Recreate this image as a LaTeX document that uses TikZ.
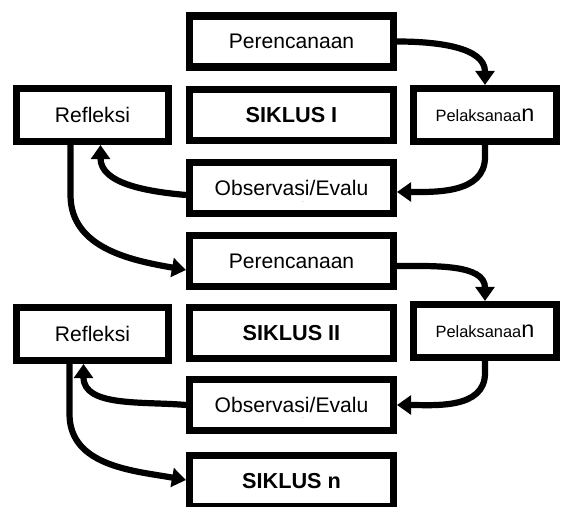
\documentclass[tikz,border=0pt]{standalone}
\usepackage{fontspec}
\setmainfont{Liberation Sans}
\usetikzlibrary{arrows,arrows.meta,calc}
\tikzstyle{stepbox} = [rectangle, draw, line width=6pt, minimum width=6.12cm, minimum height=1.53cm, inner sep=0pt, font=\fontsize{18}{21}\selectfont]
\tikzstyle{cyclebox} = [stepbox, font=\fontsize{18.5}{21}\selectfont\bfseries]
\tikzstyle{sidebox} = [stepbox, minimum width=4.56cm, minimum height=1.59cm]
\tikzstyle{dotmark} = [font=\fontsize{4}{4}\selectfont, text=gray, inner sep=0pt]
\tikzstyle{arrow} = [line width=5.3pt, ->, >={Triangle[length=12pt,width=16pt]}]
\newcommand{\pelak}{{\fontsize{14}{16}\selectfont Pelaksanaa}{\fontsize{20}{21}\selectfont n}}

\begin{document}
\begin{tikzpicture}[x=0.03cm, y=0.03cm]
    \useasboundingbox (0,0) rectangle (561,507);

    % Siklus I
    \node[stepbox] (per1) at (291.5,465.5) {Perencanaan};
    \node[cyclebox] (sik1) at (291.5,392) {SIKLUS I};
    \node[sidebox] (ref1) at (92.5,392) {Refleksi};
    \node[sidebox, minimum width=4.29cm] (pel1) at (485,392) {\pelak};
    \node[stepbox] (obs1) at (291.5,319) {Observasi/Evalu};
    \node[dotmark] (obs1m) at (303,304) {-};

    % Siklus II
    \node[stepbox] (per2) at (291.5,246) {Perencanaan};
    \node[cyclebox] (sik2) at (291.5,174) {SIKLUS II};
    \node[sidebox] (ref2) at (92.5,173) {Refleksi};
    \node[sidebox, minimum width=4.29cm] (pel2) at (485,176) {\pelak};
    \node[stepbox] (obs2) at (291.5,102) {Observasi/Evalu};
    \node[dotmark] (obs2m) at (303,88) {-};

    % Siklus n
    \node[cyclebox] (sikn) at (291.5,26) {SIKLUS n};

    % Connections
    \draw[arrow] (per1.east) to[out=0,in=90] (pel1.north);
    \draw[arrow] (pel1.south) -- ++(0,-12) to[out=-90,in=0] ($(obs1.east)+(0,-4)$);
    \draw[arrow] ($(obs1.west)+(0,-7)$) to[out=175,in=-90] ($(ref1.south)+(8,0)$);
    \draw[arrow] ($(ref1.south)+(-22,0)$) -- ++(0,-50) to[out=-90,in=170] ($(per2.west)+(0,-9)$);
    \draw[arrow] ($(per2.east)+(0,-5)$) to[out=0,in=90] (pel2.north);
    \draw[arrow] (pel2.south) -- ++(0,-12) to[out=-90,in=0] (obs2.east);
    \draw[arrow] (obs2.west) to[out=175,in=-90] ($(ref2.south)+(-9,0)$);
    \draw[arrow] ($(ref2.south)+(-23,0)$) -- ++(0,-50) to[out=-90,in=170] ($(sikn.west)+(0,1)$);
\end{tikzpicture}
\end{document}
